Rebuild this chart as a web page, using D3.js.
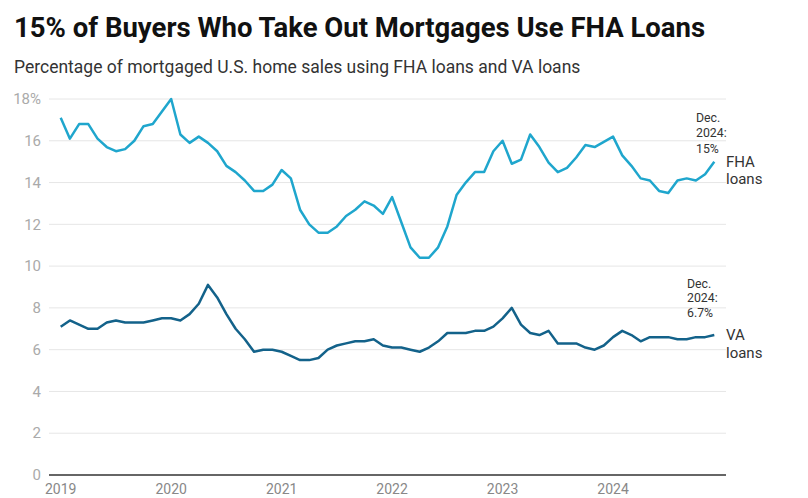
<!DOCTYPE html>
<html>
<head>
<meta charset="utf-8">
<script src="https://cdn.jsdelivr.net/npm/d3@7"></script>
<style>
  html, body { margin: 0; padding: 0; background: #fff; }
  svg { display: block; font-family: Roboto, "Noto Sans", sans-serif; }
</style>
</head>
<body>
<svg id="chart" width="808" height="498"></svg>
<script>
// Monthly data, Jan 2019 .. Dec 2024
const startYear = 2019;
const fhaValues = [
  17.1, 16.1, 16.8, 16.8, 16.1, 15.7, 15.5, 15.6, 16.0, 16.7, 16.8, 17.4,
  18.0, 16.3, 15.9, 16.2, 15.9, 15.5, 14.8, 14.5, 14.1, 13.6, 13.6, 13.9,
  14.6, 14.2, 12.7, 12.0, 11.6, 11.6, 11.9, 12.4, 12.7, 13.1, 12.9, 12.5,
  13.3, 12.1, 10.9, 10.4, 10.4, 10.9, 11.9, 13.4, 14.0, 14.5, 14.5, 15.5,
  16.0, 14.9, 15.1, 16.3, 15.7, 14.95, 14.5, 14.7, 15.2, 15.8, 15.7, 15.95,
  16.2, 15.3, 14.8, 14.2, 14.1, 13.6, 13.5, 14.1, 14.2, 14.1, 14.4, 15.0
];
const vaValues = [
  7.1, 7.4, 7.2, 7.0, 7.0, 7.3, 7.4, 7.3, 7.3, 7.3, 7.4, 7.5,
  7.5, 7.4, 7.7, 8.2, 9.1, 8.5, 7.7, 7.0, 6.5, 5.9, 6.0, 6.0,
  5.9, 5.7, 5.5, 5.5, 5.6, 6.0, 6.2, 6.3, 6.4, 6.4, 6.5, 6.2,
  6.1, 6.1, 6.0, 5.9, 6.1, 6.4, 6.8, 6.8, 6.8, 6.9, 6.9, 7.1,
  7.5, 8.0, 7.2, 6.8, 6.7, 6.9, 6.3, 6.3, 6.3, 6.1, 6.0, 6.2,
  6.6, 6.9, 6.7, 6.4, 6.6, 6.6, 6.6, 6.5, 6.5, 6.6, 6.6, 6.7
];
const yearLabels = ["2019", "2020", "2021", "2022", "2023", "2024"];
const yTicks = [0, 2, 4, 6, 8, 10, 12, 14, 16, 18];
const titleText = "15% of Buyers Who Take Out Mortgages Use FHA Loans";
const subtitleText = "Percentage of mortgaged U.S. home sales using FHA loans and VA loans";
const fhaNote = ["Dec.", "2024:", "15%"];
const vaNote = ["Dec.", "2024:", "6.7%"];
const fhaLabel = ["FHA", "loans"];
const vaLabel = ["VA", "loans"];

const svg = d3.select("#chart");
const nMonths = fhaValues.length;

const x = d3.scaleLinear().domain([0, nMonths - 1]).range([60.7, 714.3]);
const y = d3.scaleLinear().domain([0, 18]).range([475, 99]);

const gridLeft = 49, gridRight = 726;

// Title and subtitle
svg.append("text").attr("x", 14).attr("y", 37)
  .attr("font-size", 27.5).attr("font-weight", 700).attr("fill", "#111")
  .text(titleText);
svg.append("text").attr("x", 14).attr("y", 73)
  .attr("font-size", 17.5).attr("fill", "#333")
  .text(subtitleText);

// Gridlines
svg.append("g").selectAll("line")
  .data(yTicks.filter(d => d > 0))
  .join("line")
  .attr("x1", gridLeft).attr("x2", gridRight)
  .attr("y1", d => y(d)).attr("y2", d => y(d))
  .attr("stroke", "#e6e6e6").attr("stroke-width", 1);

// Y axis labels
svg.append("g").selectAll("text")
  .data(yTicks)
  .join("text")
  .attr("x", 41).attr("y", d => y(d))
  .attr("dy", "0.35em")
  .attr("text-anchor", "end")
  .attr("font-size", 15).attr("fill", "#aaa")
  .text(d => d === 18 ? d + "%" : d);

// X axis labels
svg.append("g").selectAll("text")
  .data(yearLabels)
  .join("text")
  .attr("x", (d, i) => x(i * 12)).attr("y", 494)
  .attr("text-anchor", "middle")
  .attr("font-size", 14).attr("fill", "#888")
  .text(d => d);

// Baseline
svg.append("line")
  .attr("x1", gridLeft).attr("x2", gridRight)
  .attr("y1", y(0)).attr("y2", y(0))
  .attr("stroke", "#333").attr("stroke-width", 1.5);

const line = d3.line().x((d, i) => x(i)).y(d => y(d));

svg.append("path").datum(vaValues)
  .attr("d", line).attr("fill", "none")
  .attr("stroke", "#13628a").attr("stroke-width", 2.5)
  .attr("stroke-linejoin", "round");

svg.append("path").datum(fhaValues)
  .attr("d", line).attr("fill", "none")
  .attr("stroke", "#1fa6cd").attr("stroke-width", 2.5)
  .attr("stroke-linejoin", "round");

// Annotations
function multiline(lines, x0, y0, lh, size, color) {
  svg.append("g").selectAll("text")
    .data(lines).join("text")
    .attr("x", x0).attr("y", (d, i) => y0 + i * lh)
    .attr("font-size", size).attr("fill", color)
    .text(d => d);
}
multiline(fhaNote, 696, 122, 15.3, 12.3, "#333");
multiline(vaNote, 687, 287.5, 14.8, 12.3, "#333");
multiline(fhaLabel, 726, 166.5, 17.5, 15, "#333");
multiline(vaLabel, 726, 340, 17.5, 15, "#333");
</script>
</body>
</html>
